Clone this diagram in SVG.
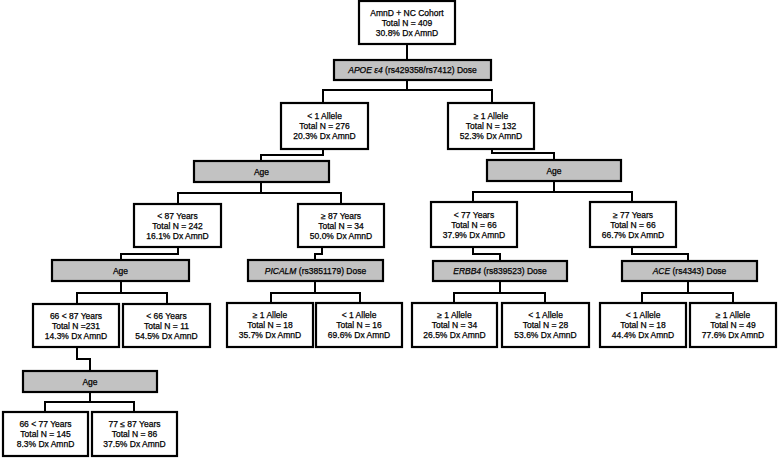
<svg xmlns="http://www.w3.org/2000/svg" width="778" height="458" viewBox="0 0 778 458">
<style>
.box{fill:#fff;stroke:#000;stroke-width:2.2}
.bar{fill:#c2c2c2;stroke:#000;stroke-width:2.2}
.conn path{fill:none;stroke:#000;stroke-width:2;stroke-linejoin:miter;stroke-linecap:square}
text{font-family:"Liberation Sans",Arial,sans-serif;font-size:8.5px;text-anchor:middle;fill:#000;stroke:#000;stroke-width:0.25}
.it{font-style:italic}
</style>
<rect width="778" height="458" fill="#fff"/>
<g class="conn" id="connectors">
<path d="M407,44 V60"/>
<path d="M407,80 V90 M323,103 V90 H492 V103"/>
<path d="M323,149 V155 H261 V161"/>
<path d="M492,149 V153 H554 V160"/>
<path d="M261,182 V193 M178,204 V193 H341 V204"/>
<path d="M554,181 V192 M473,202 V192 H632 V202"/>
<path d="M178,247 V254 H121 V260"/>
<path d="M322,247 V254 H315 V260"/>
<path d="M473,247 V254 H500 V261"/>
<path d="M632,247 V254 H688 V261"/>
<path d="M121,281 V293 M77,304 V293 H167 V304"/>
<path d="M315,281 V293 M271,303 V293 H360 V303"/>
<path d="M500,281 V293 M454,303 V293 H545 V303"/>
<path d="M688,281 V293 M642,303 V293 H733 V303"/>
<path d="M77,347 V359 H90 V371"/>
<path d="M90,392 V402 M45,412 V402 H134 V412"/>
</g>
<g id="root"><rect class="box" x="359" y="1" width="96" height="43"/>
<text x="407" y="16">AmnD + NC Cohort</text><text x="407" y="26">Total N = 409</text><text x="407" y="36">30.8% Dx AmnD</text></g>
<g id="split_apoe"><rect class="bar" x="334" y="60" width="157" height="20"/>
<text x="412.5" y="73"><tspan class="it">APOE ε4</tspan> (rs429358/rs7412) Dose</text></g>
<g id="apoe_lt1"><rect class="box" x="281" y="103" width="87" height="46"/>
<text x="324.5" y="119">&lt; 1 Allele</text><text x="324.5" y="129">Total N = 276</text><text x="324.5" y="139">20.3% Dx AmnD</text></g>
<g id="apoe_ge1"><rect class="box" x="448" y="103" width="86" height="46"/>
<text x="491" y="119">≥ 1 Allele</text><text x="491" y="129">Total N = 132</text><text x="491" y="139">52.3% Dx AmnD</text></g>
<g id="split_age_l"><rect class="bar" x="194" y="161" width="135" height="21"/>
<text x="261.5" y="174.5">Age</text></g>
<g id="split_age_r"><rect class="bar" x="487" y="160" width="134" height="21"/>
<text x="554" y="173.5">Age</text></g>
<g id="age_lt87"><rect class="box" x="134" y="204" width="87" height="43"/>
<text x="177.5" y="218.5">&lt; 87 Years</text><text x="177.5" y="228.5">Total N = 242</text><text x="177.5" y="238.5">16.1% Dx AmnD</text></g>
<g id="age_ge87"><rect class="box" x="298" y="204" width="86" height="43"/>
<text x="341" y="218.5">≥ 87 Years</text><text x="341" y="228.5">Total N = 34</text><text x="341" y="238.5">50.0% Dx AmnD</text></g>
<g id="age_lt77"><rect class="box" x="431" y="202" width="86" height="45"/>
<text x="474" y="217.5">&lt; 77 Years</text><text x="474" y="227.5">Total N = 66</text><text x="474" y="237.5">37.9% Dx AmnD</text></g>
<g id="age_ge77"><rect class="box" x="590" y="202" width="86" height="45"/>
<text x="633" y="217.5">≥ 77 Years</text><text x="633" y="227.5">Total N = 66</text><text x="633" y="237.5">66.7% Dx AmnD</text></g>
<g id="split_age_l2"><rect class="bar" x="52" y="260" width="137" height="21"/>
<text x="120.5" y="273.5">Age</text></g>
<g id="split_picalm"><rect class="bar" x="248" y="260" width="135" height="21"/>
<text x="315.5" y="273.5"><tspan class="it">PICALM</tspan> (rs3851179) Dose</text></g>
<g id="split_erbb4"><rect class="bar" x="433" y="261" width="134" height="20"/>
<text x="500" y="274"><tspan class="it">ERBB4</tspan> (rs839523) Dose</text></g>
<g id="split_ace"><rect class="bar" x="622" y="261" width="135" height="20"/>
<text x="689.5" y="274"><tspan class="it">ACE</tspan> (rs4343) Dose</text></g>
<g id="age_66_87"><rect class="box" x="33" y="304" width="86" height="43"/>
<text x="76" y="318.5">66 &lt; 87 Years</text><text x="76" y="328.5">Total N =231</text><text x="76" y="338.5">14.3% Dx AmnD</text></g>
<g id="age_lt66"><rect class="box" x="123" y="304" width="87" height="43"/>
<text x="166.5" y="318.5">&lt; 66 Years</text><text x="166.5" y="328.5">Total N = 11</text><text x="166.5" y="338.5">54.5% Dx AmnD</text></g>
<g id="picalm_ge1"><rect class="box" x="227" y="303" width="86" height="44"/>
<text x="270" y="318">≥ 1 Allele</text><text x="270" y="328">Total N = 18</text><text x="270" y="338">35.7% Dx AmnD</text></g>
<g id="picalm_lt1"><rect class="box" x="316" y="303" width="86" height="44"/>
<text x="359" y="318">&lt; 1 Allele</text><text x="359" y="328">Total N = 16</text><text x="359" y="338">69.6% Dx AmnD</text></g>
<g id="erbb4_ge1"><rect class="box" x="412" y="303" width="85" height="44"/>
<text x="454.5" y="318">≥ 1 Allele</text><text x="454.5" y="328">Total N = 34</text><text x="454.5" y="338">26.5% Dx AmnD</text></g>
<g id="erbb4_lt1"><rect class="box" x="502" y="303" width="87" height="44"/>
<text x="545.5" y="318">&lt; 1 Allele</text><text x="545.5" y="328">Total N = 28</text><text x="545.5" y="338">53.6% Dx AmnD</text></g>
<g id="ace_lt1"><rect class="box" x="600" y="303" width="86" height="44"/>
<text x="643" y="318">&lt; 1 Allele</text><text x="643" y="328">Total N = 18</text><text x="643" y="338">44.4% Dx AmnD</text></g>
<g id="ace_ge1"><rect class="box" x="690" y="303" width="86" height="44"/>
<text x="733" y="318">≥ 1 Allele</text><text x="733" y="328">Total N = 49</text><text x="733" y="338">77.6% Dx AmnD</text></g>
<g id="split_age_l3"><rect class="bar" x="23" y="371" width="134" height="21"/>
<text x="90" y="384.5">Age</text></g>
<g id="age_66_77"><rect class="box" x="3" y="412" width="85" height="44"/>
<text x="45.5" y="427">66 &lt; 77 Years</text><text x="45.5" y="437">Total N = 145</text><text x="45.5" y="447">8.3% Dx AmnD</text></g>
<g id="age_77_87"><rect class="box" x="92" y="412" width="85" height="44"/>
<text x="134.5" y="427">77 ≤ 87 Years</text><text x="134.5" y="437">Total N = 86</text><text x="134.5" y="447">37.5% Dx AmnD</text></g>
</svg>
